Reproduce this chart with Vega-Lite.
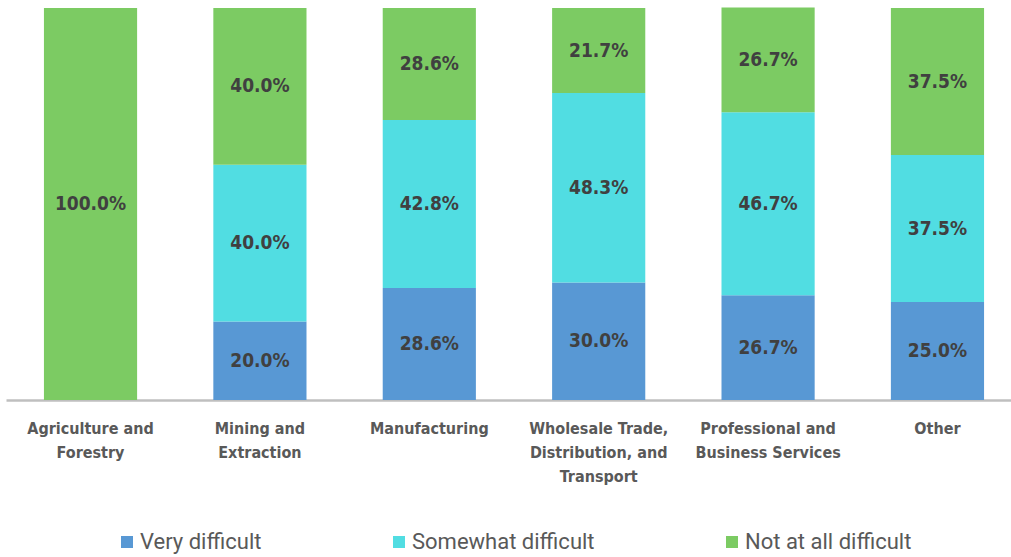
{
  "$schema": "https://vega.github.io/schema/vega-lite/v6.json",
  "autosize": "none",
  "width": 1016,
  "height": 392,
  "padding": {"left": 6, "top": 8, "right": 0, "bottom": 157},
  "background": "white",
  "config": {"view": {"stroke": null}},
  "data": {
    "values": [
      {"category": "Agriculture and Forestry", "series": "Not at all difficult", "value": 1.0},
      {"category": "Mining and Extraction", "series": "Very difficult", "value": 0.2},
      {"category": "Mining and Extraction", "series": "Somewhat difficult", "value": 0.4},
      {"category": "Mining and Extraction", "series": "Not at all difficult", "value": 0.4},
      {"category": "Manufacturing", "series": "Very difficult", "value": 0.286},
      {"category": "Manufacturing", "series": "Somewhat difficult", "value": 0.428},
      {"category": "Manufacturing", "series": "Not at all difficult", "value": 0.286},
      {"category": "Wholesale Trade, Distribution, and Transport", "series": "Very difficult", "value": 0.30},
      {"category": "Wholesale Trade, Distribution, and Transport", "series": "Somewhat difficult", "value": 0.483},
      {"category": "Wholesale Trade, Distribution, and Transport", "series": "Not at all difficult", "value": 0.217},
      {"category": "Professional and Business Services", "series": "Very difficult", "value": 0.267},
      {"category": "Professional and Business Services", "series": "Somewhat difficult", "value": 0.467},
      {"category": "Professional and Business Services", "series": "Not at all difficult", "value": 0.267},
      {"category": "Other", "series": "Very difficult", "value": 0.25},
      {"category": "Other", "series": "Somewhat difficult", "value": 0.375},
      {"category": "Other", "series": "Not at all difficult", "value": 0.375}
    ]
  },
  "transform": [
    {"stack": "value", "groupby": ["category"], "sort": [{"field": "series", "order": "descending"}], "as": ["v0", "v1"]},
    {"calculate": "(datum.v0 + datum.v1) / 2", "as": "mid"}
  ],
  "encoding": {
    "x": {
      "field": "category",
      "type": "nominal",
      "sort": null,
      "scale": {"paddingInner": 0.45, "paddingOuter": 0.224},
      "axis": {
        "title": null,
        "ticks": false,
        "domainColor": "#BFBFBF",
        "domainWidth": 2.5,
        "labelAngle": 0,
        "labelFont": "DejaVu Sans Condensed",
        "labelFontWeight": "bold",
        "labelFontSize": 16,
        "labelColor": "#595959",
        "labelBaseline": "top",
        "labelPadding": 20,
        "labelLineHeight": 24,
        "labelLimit": 300,
        "labelExpr": "datum.label == 'Agriculture and Forestry' ? ['Agriculture and', 'Forestry'] : datum.label == 'Mining and Extraction' ? ['Mining and', 'Extraction'] : datum.label == 'Wholesale Trade, Distribution, and Transport' ? ['Wholesale Trade,', 'Distribution, and', 'Transport'] : datum.label == 'Professional and Business Services' ? ['Professional and', 'Business Services'] : datum.label"
      }
    }
  },
  "layer": [
    {
      "mark": {"type": "bar"},
      "encoding": {
        "y": {"field": "v0", "type": "quantitative", "scale": {"domain": [0, 1]}, "axis": null},
        "y2": {"field": "v1"},
        "color": {
          "field": "series",
          "type": "nominal",
          "scale": {
            "domain": ["Very difficult", "Somewhat difficult", "Not at all difficult"],
            "range": ["#5898D4", "#51DDE2", "#7CCB63"]
          },
          "legend": {
            "title": null,
            "orient": "none",
            "direction": "horizontal",
            "legendX": 110,
            "legendY": 523,
            "symbolType": "square",
            "symbolSize": 144,
            "symbolStrokeWidth": 0,
            "symbolOpacity": 1,
            "labelFont": "Roboto",
            "labelFontSize": 22,
            "labelColor": "#595959",
            "labelOffset": 2,
            "columnPadding": 126,
            "labelLimit": 400
          }
        }
      }
    },
    {
      "mark": {
        "type": "text",
        "font": "DejaVu Sans Condensed",
        "fontWeight": "bold",
        "fontSize": 19,
        "color": "#404040",
        "baseline": "middle",
        "align": "center"
      },
      "encoding": {
        "y": {"field": "mid", "type": "quantitative", "scale": {"domain": [0, 1]}},
        "text": {"field": "value", "type": "quantitative", "format": ".1%"}
      }
    }
  ]
}
